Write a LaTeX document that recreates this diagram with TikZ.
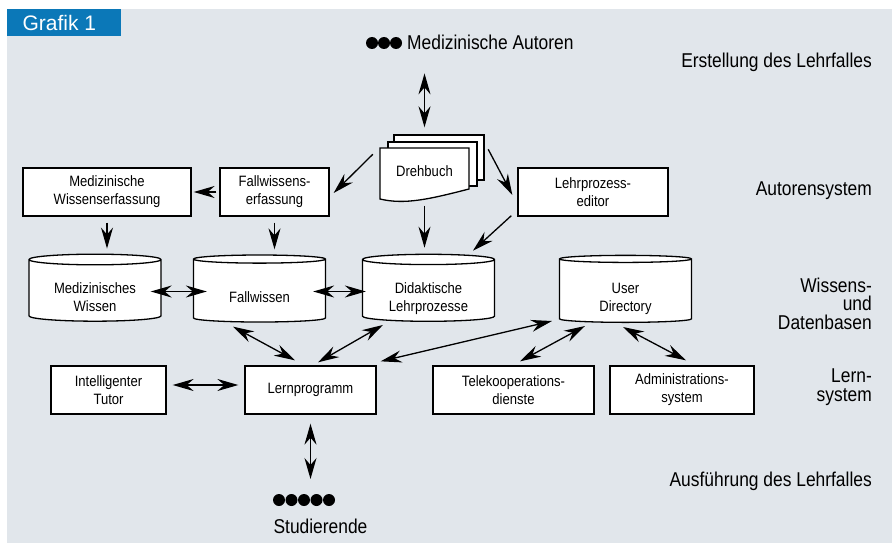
\documentclass[tikz,border=0pt]{standalone}
\usepackage{fontspec}
\setmainfont{Liberation Sans}[FakeStretch=0.87]
\newfontfamily\tabfont{Liberation Sans}
\usetikzlibrary{arrows.meta,shapes.geometric,calc}
\definecolor{bggray}{HTML}{E1E6EB}
\definecolor{tabblue}{HTML}{0B78B8}
\newcommand{\dbtxt}[1]{\raisebox{-11pt}[0pt][0pt]{\begin{tabular}{@{}c@{}}#1\end{tabular}}}
\tikzset{bigtip/.tip={Stealth[length=21pt,width=12pt,inset=7pt]}}
\begin{document}
\begin{tikzpicture}[x=1pt, y=-1pt,
	box/.style={draw, line width=1.3pt, fill=white, minimum height=48pt, align=center, font=\fontsize{15}{18}\selectfont},
	db/.style={cylinder, shape border rotate=90, aspect=0.12, draw, line width=1.3pt, fill=white, minimum width=132pt, minimum height=67pt, font=\fontsize{15}{18}\selectfont},
	lbl/.style={align=right, inner sep=0pt, font=\fontsize{20}{18.5}\selectfont},
	dbl/.style={bigtip-bigtip, line width=1.3pt},
	sgl/.style={-bigtip, line width=1.3pt}]

	\useasboundingbox (0,0) rectangle (892,543);
	\fill[bggray] (7,9) rectangle (892,543);
	\fill[tabblue] (7,9) rectangle (121,36);
	\node[anchor=west, text=white, font=\tabfont\fontsize{21}{21}\selectfont] (tab) at (19,23) {Grafik 1};

	\foreach \i in {0,1,2}
	{
		\fill (372+12*\i,43) circle (6pt);
	}
	\node[anchor=base west, inner sep=0pt, font=\fontsize{20}{20}\selectfont] (aut) at (407,50) {Medizinische Autoren};

	\node[lbl, anchor=base east] (erst) at (872,67) {Erstellung des Lehrfalles};
	\node[lbl, anchor=base east] (autsys) at (872,195) {Autorensystem};
	\node[lbl, anchor=east] (wdb) at (872,303.5) {Wissens-\\und\\Datenbasen};
	\node[lbl, anchor=east] (lsys) at (872,387) {Lern-\\system};
	\node[lbl, anchor=base east] (ausf) at (872,486) {Ausführung des Lehrfalles};

	\begin{scope}[shift={(380,148)}, line width=1.3pt]
		\filldraw[fill=white] (14,-13) rectangle (104,32);
		\filldraw[fill=white] (8,-6) rectangle (97,38);
		\filldraw[fill=white] (0,0) -- (89,0) -- (89,41) .. controls (50,51) and (25,57) .. (0,51) -- cycle;
	\end{scope}
	\node[minimum width=89pt, minimum height=51pt, font=\fontsize{15}{18}\selectfont] (dreh) at (424.5,171) {Drehbuch};

	\node[box, minimum width=168pt] (mwe) at (107,192) {Medizinische\\Wissenserfassung};
	\node[box, minimum width=109pt] (fwe) at (274.5,192) {Fallwissens-\\erfassung};
	\node[box, minimum width=150pt] (lpe) at (593,192) {Lehrprozess-\\editor};

	\node[db] (mw) at (95,291.5) {\dbtxt{Medizinisches\\Wissen}};
	\node[db] (fw) at (259.5,291.5) {\dbtxt{Fallwissen}};
	\node[db] (dl) at (428.5,291.5) {\dbtxt{Didaktische\\Lehrprozesse}};
	\node[db] (ud) at (625.5,291.5) {\dbtxt{User\\Directory}};

	\node[box, minimum width=115pt] (it) at (108.5,390) {Intelligenter\\Tutor};
	\node[box, minimum width=131pt] (lp) at (310.5,390) {Lernprogramm};
	\node[box, minimum width=161pt] (tk) at (513.5,390) {Telekooperations-\\dienste};
	\node[box, minimum width=144pt] (as) at (682,390) {Administrations-\\system};

	\foreach \i in {0,...,4}
	{
		\fill (279+12.5*\i,500) circle (6pt);
	}
	\coordinate (studdots) at (304,500);
	\node[anchor=base, inner sep=0pt, font=\fontsize{20}{20}\selectfont] (stud) at (320.5,533) {Studierende};

	\draw[dbl, shorten <=23pt, shorten >=18pt] (aut.south -| dreh.north) -- (dreh.north);
	\draw[sgl] ([xshift=-7pt,yshift=-9pt]dreh.north west) -- ([xshift=4pt,yshift=-1pt]fwe.east);
	\draw[sgl] ([xshift=19pt,yshift=-4pt]dreh.north east) -- ([xshift=-5pt,yshift=-3pt]lpe.west);
	\draw[sgl, shorten <=9pt, shorten >=6pt] (dreh.south) -- (dreh.south |- dl.north);
	\draw[sgl] ([xshift=-6pt,yshift=1pt]lpe.south west) -- ([xshift=44.5pt,yshift=3pt]dl.north);
	\draw[sgl, shorten <=3pt, shorten >=2pt] (fwe.west) -- (mwe.east);
	\draw[sgl, shorten <=6pt, shorten >=5pt] (mwe.south) -- (mwe.south |- mw.north);
	\draw[sgl, shorten <=6pt, shorten >=5pt] (fwe.south) -- (fwe.south |- fw.north);

	\draw[dbl] ([xshift=-11pt]mw.east) -- ([xshift=14pt]fw.west);
	\draw[dbl] ([xshift=-13pt]fw.east) -- ([xshift=4pt]dl.west);
	\draw[dbl] ([xshift=-26.5pt,yshift=-4pt]fw.south) -- ([xshift=-15.5pt,yshift=5pt]lp.north);
	\draw[dbl] ([xshift=-45.5pt,yshift=-3pt]dl.south) -- ([xshift=7.5pt,yshift=3pt]lp.north);
	\draw[dbl] ([xshift=4pt,yshift=4pt]lp.north east) -- ([xshift=-73.5pt,yshift=2pt]ud.south);
	\draw[dbl] ([xshift=-40.5pt,yshift=-3pt]ud.south) -- ([xshift=6.5pt,yshift=4pt]tk.north);
	\draw[dbl] ([xshift=-2.5pt,yshift=-4pt]ud.south) -- ([xshift=4pt,yshift=5pt]as.north);
	\draw[dbl] ([xshift=6pt,yshift=5pt]it.east) -- ([xshift=-6pt,yshift=5pt]lp.west);
	\draw[dbl, shorten <=9pt, shorten >=21pt] (lp.south) -- (lp.south |- studdots);
\end{tikzpicture}
\end{document}
